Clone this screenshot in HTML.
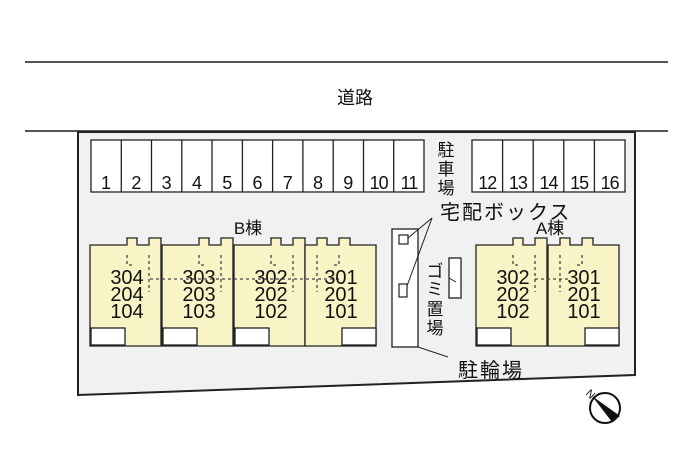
<!DOCTYPE html>
<html><head><meta charset="utf-8"><style>
html,body{margin:0;padding:0;background:#fff;width:700px;height:466px;overflow:hidden}
text{font-family:"Liberation Sans","Noto Sans CJK JP",sans-serif;fill:#111}
</style></head><body>
<svg width="700" height="466" viewBox="0 0 700 466" xmlns="http://www.w3.org/2000/svg">
<line x1="25" y1="62" x2="668" y2="62" stroke="#555" stroke-width="2"/>
<line x1="25" y1="131" x2="668" y2="131" stroke="#555" stroke-width="2"/>
<text x="355" y="104" font-size="18" text-anchor="middle">道路</text>
<polygon points="78,132 635,132 635,375 78,395" fill="#f1f1f1" stroke="#222" stroke-width="2"/>
<g fill="#fff" stroke="#222" stroke-width="1.3">
<rect x="91" y="140" width="333" height="52"/>
<rect x="472" y="140" width="153" height="52"/>
</g>
<g stroke="#222" stroke-width="1.3">
<line x1="121.3" y1="140" x2="121.3" y2="192"/><line x1="151.5" y1="140" x2="151.5" y2="192"/>
<line x1="181.8" y1="140" x2="181.8" y2="192"/><line x1="212" y1="140" x2="212" y2="192"/>
<line x1="242.4" y1="140" x2="242.4" y2="192"/><line x1="272.6" y1="140" x2="272.6" y2="192"/>
<line x1="302.9" y1="140" x2="302.9" y2="192"/><line x1="333.2" y1="140" x2="333.2" y2="192"/>
<line x1="363.5" y1="140" x2="363.5" y2="192"/><line x1="393.7" y1="140" x2="393.7" y2="192"/>
<line x1="502.6" y1="140" x2="502.6" y2="192"/><line x1="533.2" y1="140" x2="533.2" y2="192"/>
<line x1="563.8" y1="140" x2="563.8" y2="192"/><line x1="594.4" y1="140" x2="594.4" y2="192"/>
</g>
<g font-size="18" text-anchor="middle">
<text x="106" y="189">1</text><text x="136.4" y="189">2</text><text x="166.6" y="189">3</text>
<text x="197" y="189">4</text><text x="227.2" y="189">5</text><text x="257.5" y="189">6</text>
<text x="287.8" y="189">7</text><text x="318" y="189">8</text><text x="348.3" y="189">9</text>
<text x="378.6" y="189" letter-spacing="-1">10</text><text x="409" y="189" letter-spacing="-1">11</text>
<text x="487.3" y="189" letter-spacing="-1">12</text><text x="517.9" y="189" letter-spacing="-1">13</text><text x="548.5" y="189" letter-spacing="-1">14</text>
<text x="579.1" y="189" letter-spacing="-1">15</text><text x="609.7" y="189" letter-spacing="-1">16</text>
</g>
<g font-size="17" text-anchor="middle">
<text x="446" y="156">駐</text><text x="446" y="175">車</text><text x="446" y="194">場</text>
</g>
<text x="440" y="219" font-size="20" letter-spacing="2">宅配ボックス</text>
<text x="550" y="234" font-size="17" text-anchor="middle">A棟</text>
<text x="248" y="234" font-size="17" text-anchor="middle">B棟</text>
<defs>
<g id="u">
<path d="M0,8 H37 V1 H47 V8 H59 V1 H71 V109 H0 Z" fill="#f8f4c6" stroke="#222" stroke-width="1.3"/>
<rect x="1" y="91" width="34" height="17" fill="#fff" stroke="#222" stroke-width="1.3"/>
<path d="M37,18 V28 H45 M59,18 V55" stroke="#444" stroke-width="1.3" fill="none" stroke-dasharray="3,3"/>
</g>
<g id="um">
<path d="M0,8 H12 V1 H22 V8 H34 V1 H45 V8 H71 V109 H0 Z" fill="#f8f4c6" stroke="#222" stroke-width="1.3"/>
<rect x="37" y="91" width="34" height="17" fill="#fff" stroke="#222" stroke-width="1.3"/>
<path d="M12,18 V55 M34,18 V28 H26" stroke="#444" stroke-width="1.3" fill="none" stroke-dasharray="3,3"/>
</g>
</defs>
<use href="#u" x="90" y="237"/>
<use href="#u" x="162" y="237"/>
<use href="#u" x="234" y="237"/>
<use href="#um" x="305" y="237"/>
<use href="#u" x="476" y="237"/>
<use href="#um" x="548" y="237"/>
<line x1="150" y1="279" x2="340" y2="279" stroke="#444" stroke-width="1.3" stroke-dasharray="3,3"/>
<line x1="535" y1="279" x2="570" y2="279" stroke="#444" stroke-width="1.3" stroke-dasharray="3,3"/>
<g font-size="20" text-anchor="middle">
<text x="127" y="284">304</text><text x="127" y="301">204</text><text x="127" y="318">104</text>
<text x="199" y="284">303</text><text x="199" y="301">203</text><text x="199" y="318">103</text>
<text x="271" y="284">302</text><text x="271" y="301">202</text><text x="271" y="318">102</text>
<text x="341" y="284">301</text><text x="341" y="301">201</text><text x="341" y="318">101</text>
<text x="513" y="284">302</text><text x="513" y="301">202</text><text x="513" y="318">102</text>
<text x="584" y="284">301</text><text x="584" y="301">201</text><text x="584" y="318">101</text>
</g>
<rect x="392" y="229" width="26" height="118" fill="#fff" stroke="#222" stroke-width="1.3"/>
<rect x="399" y="235" width="9" height="9" fill="#fff" stroke="#222" stroke-width="1.2"/>
<rect x="399" y="284" width="8" height="13" fill="#fff" stroke="#222" stroke-width="1.2"/>
<line x1="408" y1="238" x2="432" y2="218" stroke="#222" stroke-width="1"/>
<line x1="407" y1="286" x2="432" y2="218" stroke="#222" stroke-width="1"/>
<line x1="418" y1="347" x2="448" y2="357" stroke="#222" stroke-width="1"/>
<rect x="449" y="258" width="12" height="40" fill="#fff" stroke="#222" stroke-width="1.3"/>
<line x1="449" y1="278" x2="456" y2="282" stroke="#222" stroke-width="1"/>
<g font-size="17" text-anchor="middle">
<text x="435" y="277">ゴ</text><text x="435" y="295">ミ</text><text x="435" y="315">置</text><text x="435" y="334">場</text>
</g>
<text x="458" y="377" font-size="20" letter-spacing="2">駐輪場</text>
<circle cx="605" cy="408" r="15" fill="#fff" stroke="#111" stroke-width="2"/>
<polygon points="592,396 620,416 612,422" fill="#111"/>
<text x="588" y="395" font-size="11" transform="rotate(45 588 391)">N</text>
</svg>
</body></html>
